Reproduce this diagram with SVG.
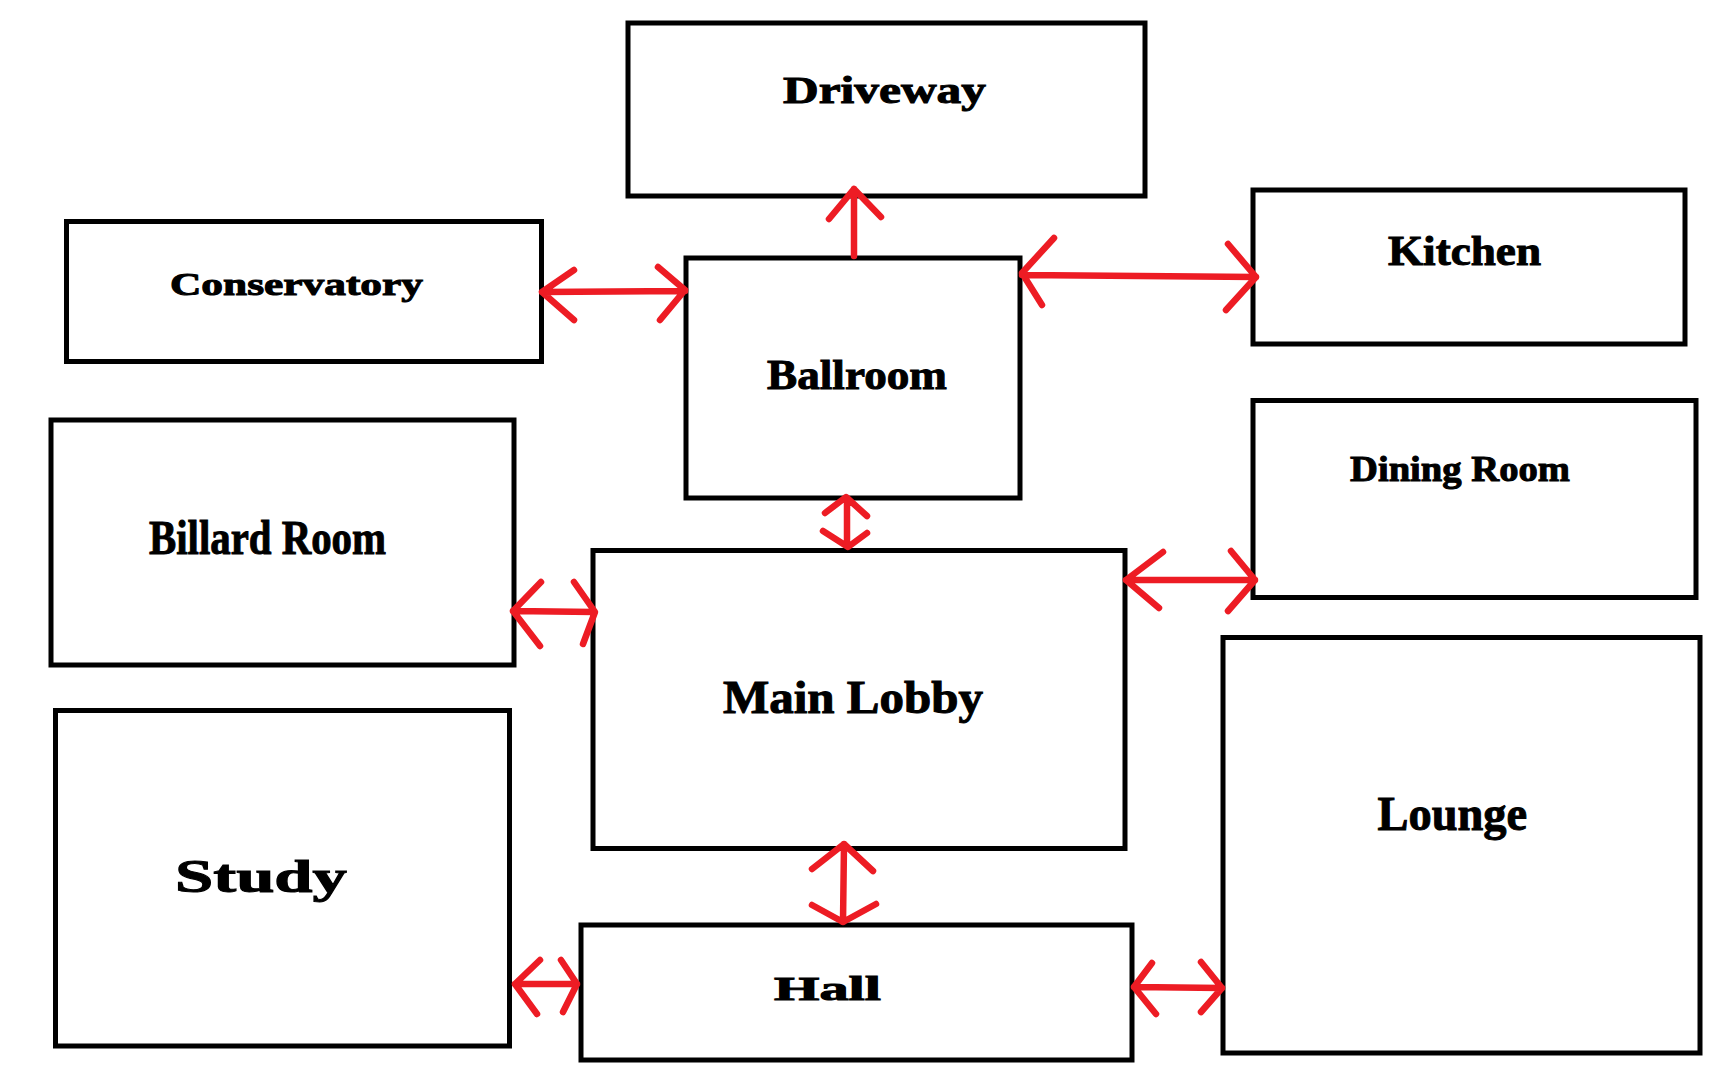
<svg xmlns="http://www.w3.org/2000/svg" width="1724" height="1077" viewBox="0 0 1724 1077">
<style>
.box{fill:#fff;stroke:#000;stroke-width:5}
.lbl{font-family:"Liberation Serif","DejaVu Serif",serif;font-weight:900;fill:#000;stroke:#000;stroke-width:1}
.con path{fill:none;stroke:#ED1C24;stroke-width:6.5;stroke-linecap:round;stroke-linejoin:round}
</style>
<rect width="1724" height="1077" fill="#fff"/>
<g id="driveway"><rect class="box" x="628" y="23" width="517" height="173"/><text class="lbl" x="783" y="103" font-size="38.6" textLength="203" lengthAdjust="spacingAndGlyphs">Driveway</text></g>
<g id="conservatory"><rect class="box" x="66.5" y="221.5" width="475" height="140"/><text class="lbl" x="170" y="295" font-size="32.4" textLength="253" lengthAdjust="spacingAndGlyphs">Conservatory</text></g>
<g id="ballroom"><rect class="box" x="686" y="258" width="334" height="240"/><text class="lbl" x="767" y="389" font-size="41.7" textLength="180" lengthAdjust="spacingAndGlyphs">Ballroom</text></g>
<g id="kitchen"><rect class="box" x="1253" y="190" width="432" height="154"/><text class="lbl" x="1388" y="264.5" font-size="41.7" textLength="153" lengthAdjust="spacingAndGlyphs">Kitchen</text></g>
<g id="dining-room"><rect class="box" x="1253" y="400.5" width="443" height="197"/><text class="lbl" x="1350" y="480.5" font-size="36.4" textLength="220" lengthAdjust="spacingAndGlyphs">Dining Room</text></g>
<g id="billard-room"><rect class="box" x="51" y="420" width="463" height="245"/><text class="lbl" x="149" y="554" font-size="48.5" textLength="237" lengthAdjust="spacingAndGlyphs">Billard Room</text></g>
<g id="main-lobby"><rect class="box" x="593" y="550.5" width="532" height="298"/><text class="lbl" x="723" y="713.3" font-size="45.5" textLength="260" lengthAdjust="spacingAndGlyphs">Main Lobby</text></g>
<g id="study"><rect class="box" x="55.5" y="710.5" width="454" height="335.5"/><text class="lbl" x="175" y="891.7" font-size="47" textLength="172" lengthAdjust="spacingAndGlyphs">Study</text></g>
<g id="hall"><rect class="box" x="581" y="925" width="551" height="135"/><text class="lbl" x="774" y="999.5" font-size="34" textLength="107" lengthAdjust="spacingAndGlyphs">Hall</text></g>
<g id="lounge"><rect class="box" x="1223" y="637.5" width="477" height="415.5"/><text class="lbl" x="1377.6" y="829.7" font-size="49.5" textLength="149.5" lengthAdjust="spacingAndGlyphs">Lounge</text></g>
<g id="connectors" class="con">
<path d="M854,256 L854,189 M829,219 L854,189 L881,217"/>
<path d="M542,292 L685,291 M574,270 L542,292 L574,320 M658,267 L685,290 L660,320"/>
<path d="M1022,275 L1256,277 M1054,238 L1022,273 L1042,305 M1228,244 L1256,277 L1226,310"/>
<path d="M847,498 L847,546 M825,513 L846,497 L867,516 M823,531 L848,547 L867,533"/>
<path d="M513,611 L594,612 M541,582 L513,611 L540,646 M574,582 L595,612 L583,644"/>
<path d="M1126,580 L1255,580 M1163,552 L1126,580 L1159,608 M1231,551 L1255,580 L1228,611"/>
<path d="M844,844 L843,922 M812,869 L844,844 L873,871 M812,905 L843,922 L876,904"/>
<path d="M515,984 L577,984 M540,960 L515,984 L537,1014 M561,960 L577,984 L563,1012"/>
<path d="M1134,987 L1222,988 M1152,963 L1134,987 L1156,1014 M1201,962 L1222,988 L1201,1012"/>
</g>
</svg>
